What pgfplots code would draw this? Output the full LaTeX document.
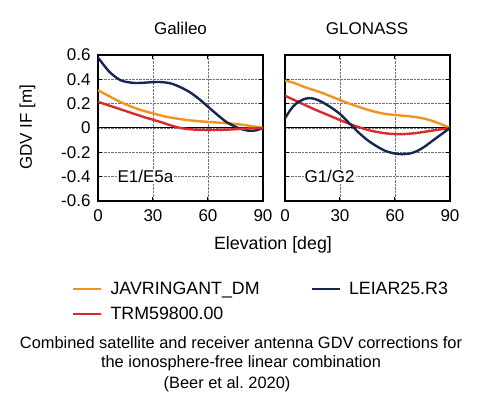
\documentclass[border=0pt]{standalone}
\usepackage{pgfplots}
\pgfplotsset{compat=1.18}
\usepackage{fontspec}
\setmainfont{Liberation Sans}
\definecolor{cOrange}{RGB}{240,148,30}
\definecolor{cRed}{RGB}{218,42,44}
\definecolor{cNavy}{RGB}{22,40,82}
\newcommand{\fs}{\fontsize{17}{20}\selectfont}
\newcommand{\fl}{\fontsize{17.8}{21}\selectfont}
\newcommand{\fc}{\fontsize{16.4}{19}\selectfont}
\frenchspacing
\pgfplotsset{
  gdv/.style={
    scale only axis, width=165pt, height=146pt,
    xmin=0, xmax=90, ymin=-0.6, ymax=0.6,
    xtick={0,30,60,90}, xticklabels={0,30,60,90},
    ytick={-0.6,-0.4,-0.2,0,0.2,0.4,0.6},
    grid=major,
    major grid style={densely dotted, black!55, line width=0.7pt},
    axis line style={line width=1.3pt},
    tick style={black, line width=1pt},
    major tick length=4pt,
    tick align=inside,
    tick label style={font=\fs},
    xticklabel style={yshift=-5pt},
    yticklabel style={xshift=-4pt},
  },
  cur/.style={smooth, line width=2.4pt, no marks},
}
\begin{document}
\begin{tikzpicture}[x=1pt,y=1pt]
\path[use as bounding box] (0,0) rectangle (480,400);
\begin{axis}[gdv, at={(98pt,199pt)}, anchor=south west,
  yticklabels={-0.6,-0.4,-0.2,0,0.2,0.4,0.6},
  legend columns=2,
  legend cell align=left,
  legend image code/.code={\draw[#1] (0pt,0pt) -- (28pt,0pt);},
  legend style={at={(-0.1576,-0.54)}, anchor=north west, draw=none, fill=none,
    inner sep=0pt, row sep=7pt, font=\fl,
    nodes={inner sep=2pt},
    /tikz/every odd column/.append style={column sep=6pt},
    /tikz/every even column/.append style={column sep=49pt}},
]
\addplot[black, line width=1pt, forget plot] coordinates {(0,0) (90,0)};
\addplot[cur, cOrange] coordinates {(0,0.31)(5,0.27)(10,0.23)(15,0.195)(20,0.165)(25,0.14)(30,0.12)(35,0.1)(40,0.085)(45,0.073)(50,0.063)(55,0.056)(60,0.05)(65,0.045)(70,0.04)(75,0.033)(80,0.024)(85,0.012)(90,0)};
\addlegendentry{JAVRINGANT\_DM}
\addplot[cur, cNavy] coordinates {(0,0.58)(3,0.52)(6,0.465)(9,0.425)(12,0.395)(15,0.38)(20,0.37)(25,0.372)(30,0.377)(35,0.377)(40,0.365)(45,0.335)(50,0.295)(55,0.24)(60,0.175)(65,0.11)(70,0.05)(75,0.01)(78,-0.008)(82,-0.022)(86,-0.02)(90,0)};
\addlegendentry{LEIAR25.R3}
\addplot[cur, cRed] coordinates {(0,0.215)(5,0.19)(10,0.165)(15,0.14)(20,0.115)(25,0.09)(30,0.068)(35,0.045)(40,0.02)(45,0.0)(50,-0.01)(55,-0.015)(60,-0.017)(65,-0.016)(70,-0.014)(75,-0.01)(80,-0.005)(85,-0.002)(90,0)};
\addlegendentry{TRM59800.00}
\node[anchor=west, fill=white, inner sep=1pt, font=\fs] at (axis cs:10,-0.4) {E1/E5a};
\end{axis}
\begin{axis}[gdv, at={(285pt,199pt)}, anchor=south west,
  yticklabels={}]
\addplot[black, line width=1pt] coordinates {(0,0) (90,0)};
\addplot[cur, cOrange] coordinates {(0,0.39)(5,0.37)(10,0.34)(15,0.315)(20,0.29)(25,0.26)(30,0.23)(35,0.2)(40,0.175)(45,0.15)(50,0.13)(55,0.115)(60,0.107)(65,0.1)(70,0.092)(75,0.08)(80,0.06)(85,0.032)(90,0)};
\addplot[cur, cRed] coordinates {(0,0.265)(5,0.23)(10,0.195)(15,0.16)(20,0.128)(25,0.097)(30,0.065)(35,0.035)(40,0.008)(45,-0.015)(50,-0.032)(55,-0.044)(60,-0.05)(65,-0.05)(70,-0.044)(75,-0.034)(80,-0.022)(85,-0.011)(90,0)};
\addplot[cur, cNavy] coordinates {(0,0.08)(3,0.15)(6,0.2)(10,0.235)(13,0.245)(16,0.24)(20,0.215)(25,0.17)(30,0.115)(35,0.04)(40,-0.035)(45,-0.1)(50,-0.15)(55,-0.19)(60,-0.21)(64,-0.215)(68,-0.21)(72,-0.19)(76,-0.155)(80,-0.11)(85,-0.055)(90,0)};
\node[anchor=west, fill=white, inner sep=1pt, font=\fs] at (axis cs:10,-0.4) {G1/G2};
\end{axis}
\node[anchor=base, font=\fs] at (180.5,365) {Galileo};
\node[anchor=base, font=\fs] at (367,365) {GLONASS};
\node[rotate=90, font=\fs] at (27.5,272.5) {GDV IF [m]};
\node[anchor=base, font=\fl] at (273,151) {Elevation [deg]};
\node[anchor=base, font=\fc] at (241,52) {Combined satellite and receiver antenna GDV corrections for};
\node[anchor=base, font=\fc] at (241,33) {the ionosphere-free linear combination};
\node[anchor=base, font=\fc] at (227,12) {(Beer et al.\ 2020)};
\end{tikzpicture}
\end{document}
